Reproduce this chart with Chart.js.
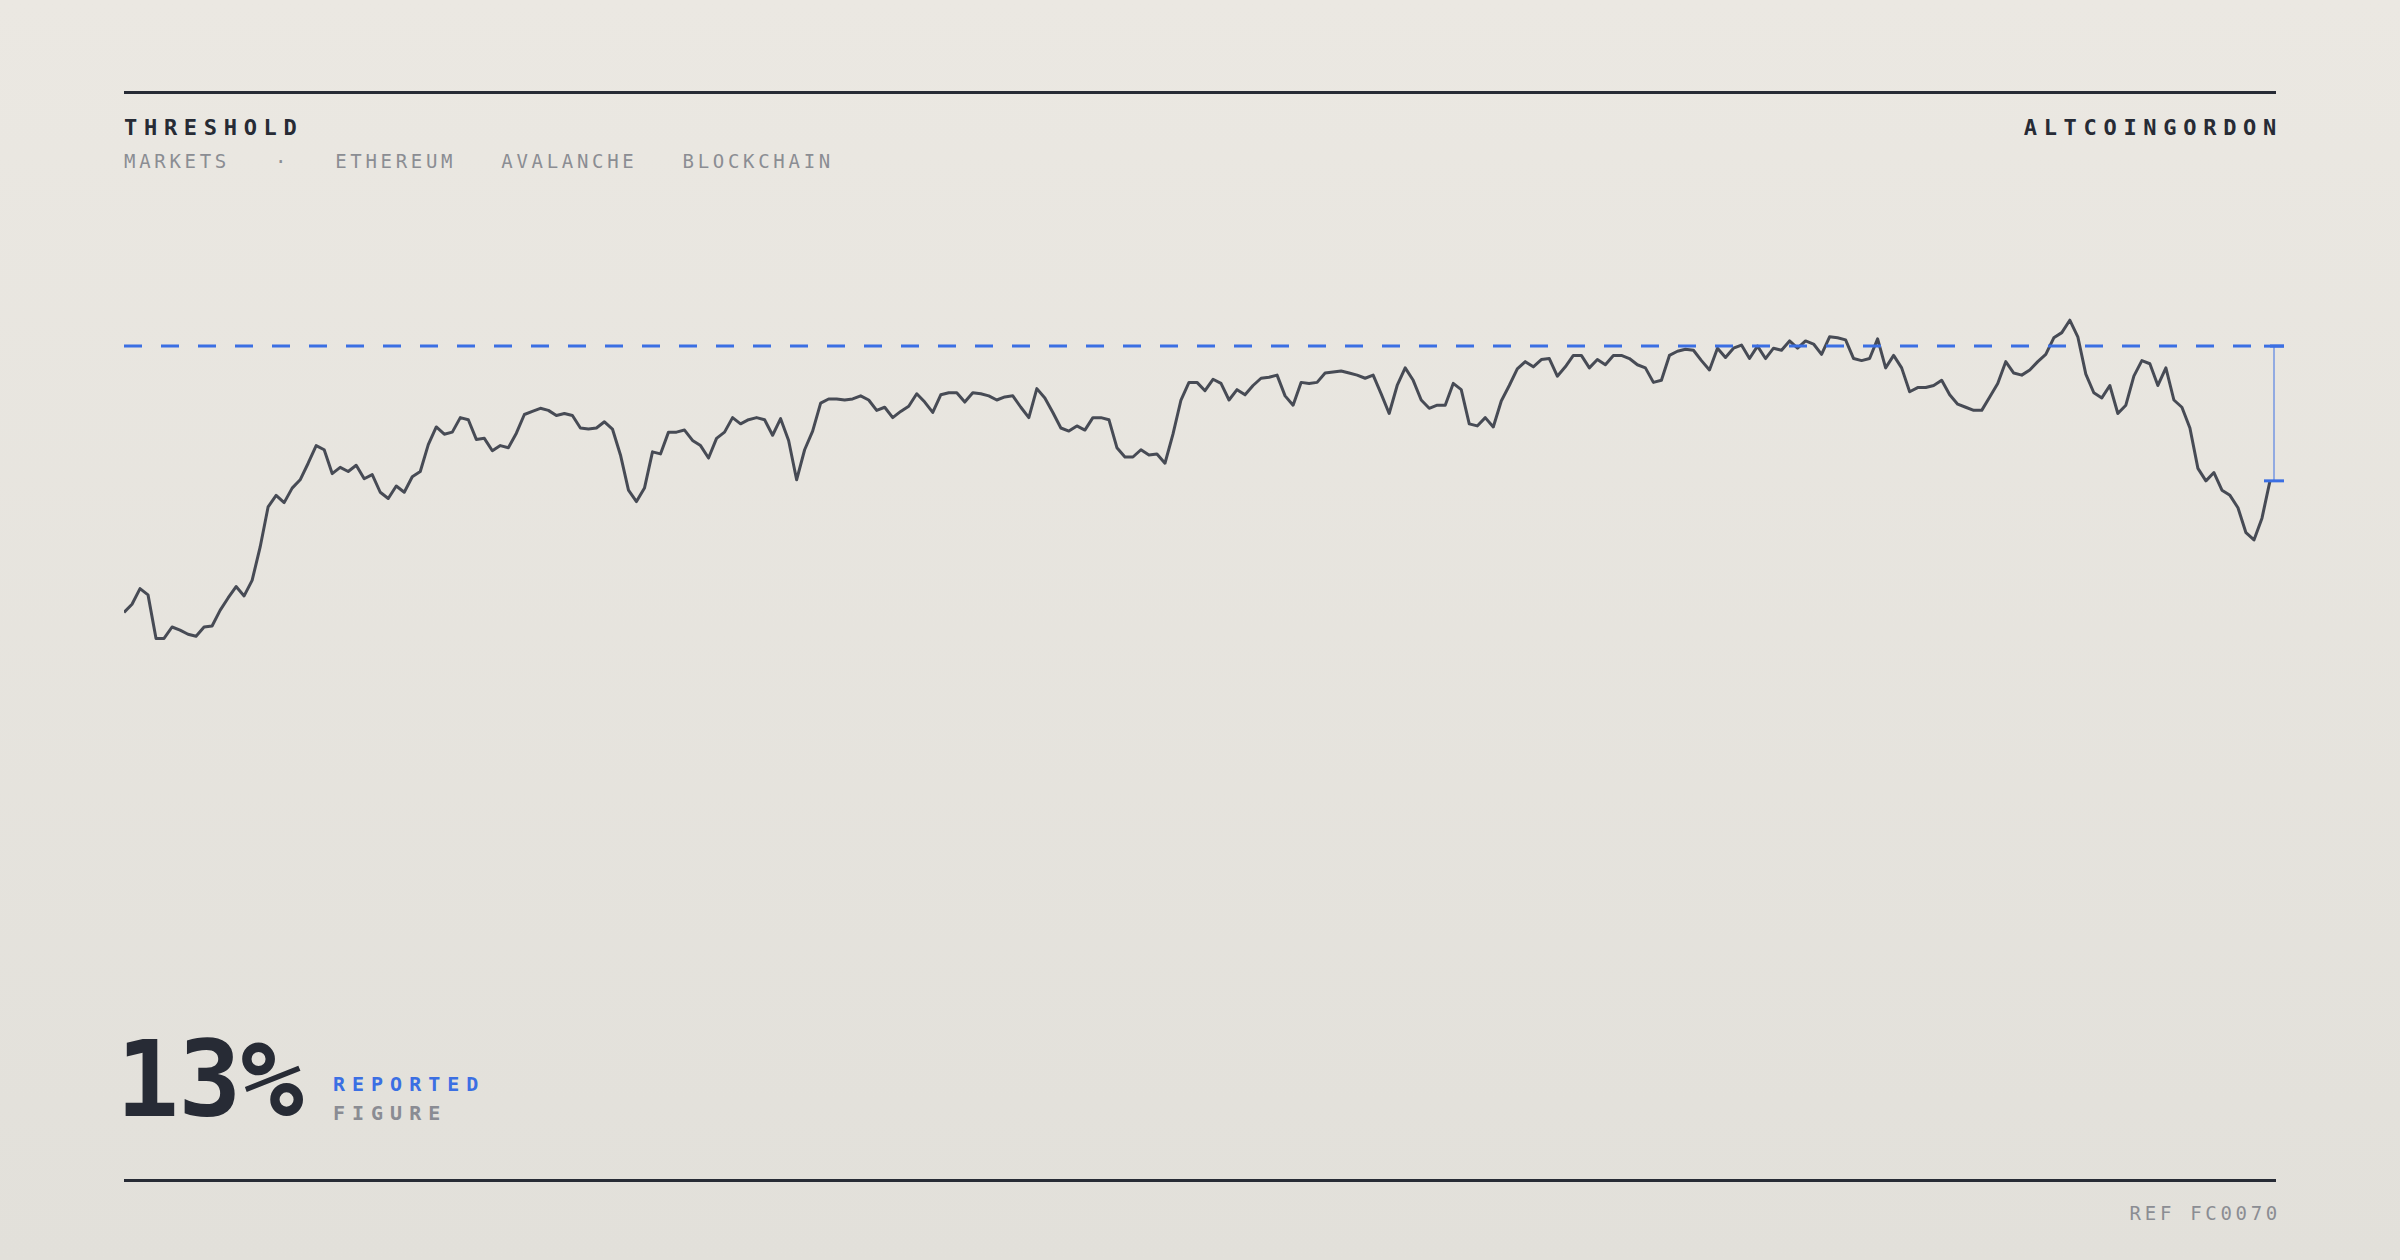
<!DOCTYPE html>
<html>
<head>
<meta charset="utf-8">
<title>Threshold</title>
<script src="https://cdn.jsdelivr.net/npm/chart.js@4.4.1/dist/chart.umd.min.js"></script>
<style>
  html, body { margin: 0; padding: 0; }
  body {
    width: 2400px;
    height: 1260px;
    position: relative;
    overflow: hidden;
    background: linear-gradient(180deg, #ebe8e2 0%, #e2e0da 100%);
    font-family: "DejaVu Sans Mono", "Liberation Mono", monospace;
  }
  .rule { position: absolute; left: 124px; width: 2152px; height: 3px; background: #272b35; }
  .rule.top { top: 91px; }
  .rule.bottom { top: 1179px; }
  .label { position: absolute; line-height: 1; white-space: nowrap; }
  .brand { top: 117px; font-size: 22px; font-weight: bold; letter-spacing: 6.7px; color: #272b35; }
  .brand.left { left: 124px; }
  .brand.right { right: 117px; }
  .tags { left: 124px; top: 152px; font-size: 19px; letter-spacing: 3.7px; color: #8b8d93; display: flex; gap: 45px; }
  .big { left: 116px; top: 1028px; font-size: 105px; font-weight: bold; color: #272b35; letter-spacing: -1px; }
  .note { left: 333px; font-size: 20px; font-weight: bold; letter-spacing: 7px; }
  .note.blue { top: 1074px; color: #3b6fe3; }
  .note.grey { top: 1103px; color: #8a8c93; }
  .ref { right: 119px; top: 1204px; font-size: 19px; letter-spacing: 3.7px; color: #8b8d93; }
  .chart-box { position: absolute; left: 124px; top: 201px; width: 2160px; height: 767px; }
</style>
</head>
<body>
  <div class="rule top"></div>
  <div class="label brand left">THRESHOLD</div>
  <div class="label brand right">ALTCOINGORDON</div>
  <div class="label tags"><span>MARKETS</span><span>·</span><span>ETHEREUM</span><span>AVALANCHE</span><span>BLOCKCHAIN</span></div>

  <div class="chart-box"><canvas id="priceChart"></canvas></div>

  <div class="label big">13%</div>
  <div class="label note blue">REPORTED</div>
  <div class="label note grey">FIGURE</div>
  <div class="rule bottom"></div>
  <div class="label ref">REF FC0070</div>

<script>
// Price index, one value per step
const prices = [
    74.3, 75.1, 76.6, 76.0, 71.8, 71.8, 72.9, 72.6, 72.2, 72.0,
    72.9, 73.0, 74.5, 75.7, 76.8, 75.9, 77.4, 80.6, 84.5, 85.6,
    84.9, 86.3, 87.1, 88.7, 90.4, 90.0, 87.7, 88.3, 87.9, 88.5,
    87.2, 87.6, 85.9, 85.3, 86.5, 85.9, 87.4, 87.9, 90.5, 92.2,
    91.5, 91.7, 93.1, 92.9, 91.0, 91.1, 89.9, 90.4, 90.2, 91.6,
    93.4, 93.7, 94.0, 93.8, 93.3, 93.5, 93.3, 92.1, 92.0, 92.1,
    92.7, 92.0, 89.5, 86.1, 85.0, 86.3, 89.8, 89.6, 91.7, 91.7,
    91.9, 90.9, 90.4, 89.2, 91.1, 91.7, 93.1, 92.5, 92.9, 93.1,
    92.9, 91.4, 93.0, 90.9, 87.1, 90.0, 91.8, 94.5, 94.9, 94.9,
    94.8, 94.9, 95.2, 94.8, 93.8, 94.1, 93.1, 93.7, 94.2, 95.4,
    94.6, 93.6, 95.3, 95.5, 95.5, 94.6, 95.5, 95.4, 95.2, 94.8,
    95.1, 95.2, 94.1, 93.1, 95.9, 95.0, 93.6, 92.1, 91.8, 92.3,
    91.9, 93.1, 93.1, 92.9, 90.2, 89.3, 89.3, 90.0, 89.5, 89.6,
    88.7, 91.5, 94.8, 96.5, 96.5, 95.7, 96.8, 96.4, 94.8, 95.8,
    95.3, 96.2, 96.9, 97.0, 97.2, 95.2, 94.3, 96.5, 96.4, 96.5,
    97.4, 97.5, 97.6, 97.4, 97.2, 96.9, 97.2, 95.4, 93.5, 96.2,
    97.9, 96.7, 94.8, 94.0, 94.3, 94.3, 96.4, 95.8, 92.5, 92.3,
    93.1, 92.2, 94.7, 96.2, 97.8, 98.5, 98.0, 98.7, 98.8, 97.1,
    98.0, 99.1, 99.1, 97.9, 98.7, 98.2, 99.1, 99.1, 98.8, 98.2,
    97.9, 96.5, 96.7, 99.1, 99.5, 99.7, 99.6, 98.6, 97.7, 99.8,
    98.9, 99.8, 100.1, 98.8, 100.0, 98.8, 99.8, 99.6, 100.5, 99.8,
    100.5, 100.2, 99.2, 100.9, 100.8, 100.6, 98.8, 98.6, 98.8, 100.7,
    97.9, 99.1, 97.9, 95.6, 96.0, 96.0, 96.2, 96.7, 95.3, 94.4,
    94.1, 93.8, 93.8, 95.1, 96.4, 98.5, 97.4, 97.2, 97.7, 98.5,
    99.2, 100.8, 101.3, 102.5, 100.9, 97.3, 95.5, 95.0, 96.2, 93.5,
    94.3, 97.1, 98.6, 98.3, 96.2, 97.9, 94.8, 94.1, 92.1, 88.2,
    87.0, 87.8, 86.1, 85.6, 84.4, 82.0, 81.3, 83.4, 87.0
];

// Threshold level (dashed line)
const threshold = [100];

// Visible value range of the plot
const yRange = [40, 114];

document.addEventListener('DOMContentLoaded', function() {
    initializeChart();
});

// Vertical gap bracket between the threshold and the last value
const gapMarker = {
    id: 'gapMarker',
    afterDatasetsDraw(chart) {
        const { ctx, scales: { x, y } } = chart;
        const last = prices.length - 1;
        const px = x.getPixelForValue(last) + 4;
        const yTop = y.getPixelForValue(threshold[0]);
        const yEnd = y.getPixelForValue(prices[last]);

        ctx.save();
        ctx.strokeStyle = 'rgba(59, 111, 227, 0.5)';
        ctx.lineWidth = 2;
        ctx.beginPath();
        ctx.moveTo(px, yTop);
        ctx.lineTo(px, yEnd);
        ctx.stroke();

        ctx.strokeStyle = '#3b6fe3';
        ctx.lineWidth = 3;
        [yTop, yEnd].forEach(py => {
            ctx.beginPath();
            ctx.moveTo(px - 10, py);
            ctx.lineTo(px + 10, py);
            ctx.stroke();
        });
        ctx.restore();
    }
};

function initializeChart() {
    const ctx = document.getElementById('priceChart');
    if (!ctx) return;

    // a little room to the right of the last point for the bracket
    const xMax = prices.length - 1 + 1.75;

    new Chart(ctx, {
        type: 'line',
        data: {
            datasets: [
                {
                    label: 'Threshold',
                    data: [{ x: 0, y: threshold[0] }, { x: xMax, y: threshold[0] }],
                    borderColor: '#3b6fe3',
                    borderWidth: 3,
                    borderDash: [18, 19],
                    pointRadius: 0
                },
                {
                    label: 'Price',
                    data: prices.map((v, i) => ({ x: i, y: v })),
                    borderColor: '#474b55',
                    borderWidth: 3,
                    pointRadius: 0,
                    tension: 0
                }
            ]
        },
        options: {
            responsive: true,
            maintainAspectRatio: false,
            animation: false,
            layout: { padding: 0 },
            plugins: {
                legend: { display: false },
                tooltip: { enabled: false }
            },
            scales: {
                x: { type: 'linear', min: 0, max: xMax, display: false },
                y: { min: yRange[0], max: yRange[1], display: false }
            },
            elements: {
                line: { borderJoinStyle: 'round' }
            }
        },
        plugins: [gapMarker]
    });
}
</script>
</body>
</html>
